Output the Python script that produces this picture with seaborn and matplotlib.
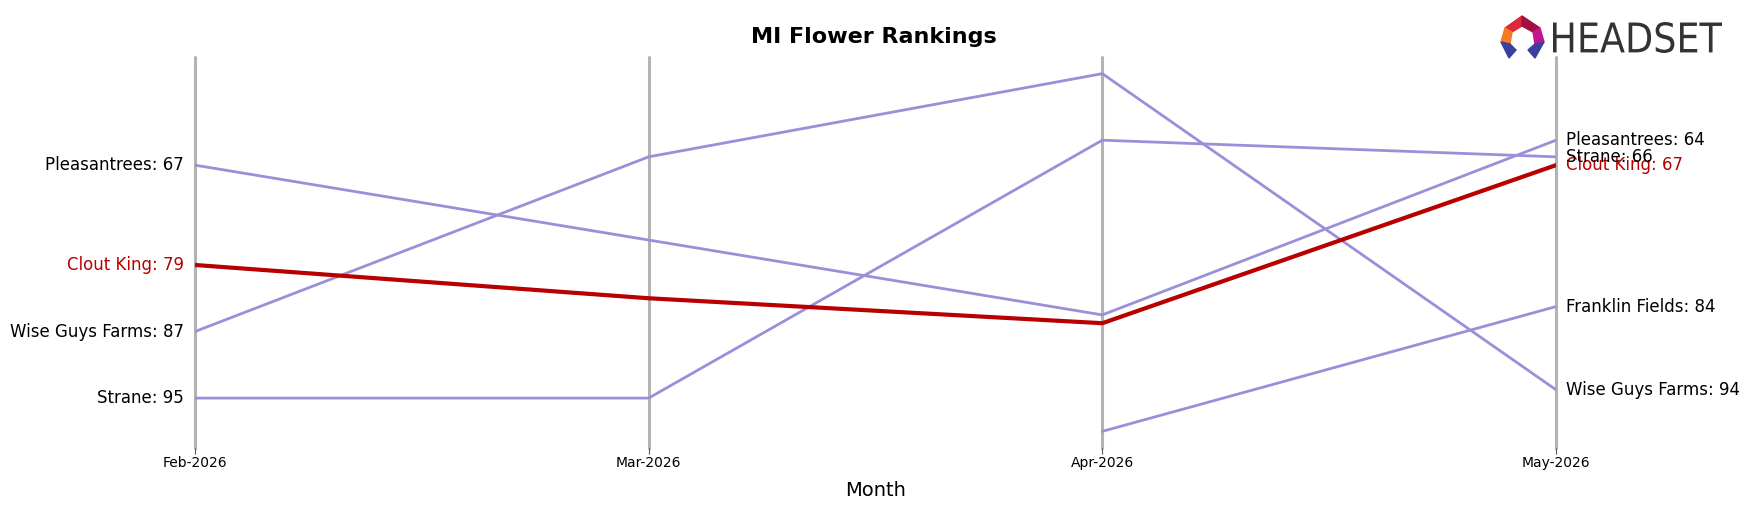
import matplotlib
matplotlib.use('Agg')
import matplotlib.pyplot as plt
from matplotlib.patches import Polygon, PathPatch
from matplotlib.textpath import TextPath
from matplotlib.font_manager import FontProperties
from matplotlib.transforms import Affine2D
import seaborn as sns
import numpy as np
import pandas as pd

sns.set_style('white')
plt.rcParams['text.color'] = 'black'
plt.rcParams['xtick.color'] = 'black'
plt.rcParams['axes.labelcolor'] = 'black'

# data (rank per month, nan = not ranked)
months = ['Feb-2026', 'Mar-2026', 'Apr-2026', 'May-2026']
brands = ['Pleasantrees', 'Clout King', 'Wise Guys Farms', 'Strane', 'Franklin Fields']
pleasantrees = [67, 76, 85, 64]
clout_king = [79, 83, 86, 67]
wise_guys = [87, 66, 56, 94]
strane = [95, 95, 64, 66]
franklin = [np.nan, np.nan, 99, 84]
highlight = 'Clout King'

ranks = [pleasantrees, clout_king, wise_guys, strane, franklin]
rows = []
for b, r in zip(brands, ranks):
    for i, m in enumerate(months):
        rows.append({'brand': b, 'month_idx': i, 'rank': r[i]})
df = pd.DataFrame(rows)

PURPLE = '#9a8fd9'
RED = '#b80000'

W, H = 1750, 507
fig = plt.figure(figsize=(17.5, 5.07), dpi=100)
ax = fig.add_axes([195 / W, 1 - 448 / H, (1556 - 195) / W, (448 - 57) / H])

for i in range(len(months)):
    ax.axvline(i, color='#b3b3b3', lw=2.2, zorder=0, clip_on=False)

for b in brands:
    sub = df[df['brand'] == b].dropna()
    is_hl = b == highlight
    sns.lineplot(data=sub, x='month_idx', y='rank', ax=ax,
                 color=RED if is_hl else PURPLE, lw=3 if is_hl else 2,
                 zorder=3 if is_hl else 2, legend=False)
    first = sub.iloc[0]
    last = sub.iloc[-1]
    col = RED if is_hl else 'black'
    if first['month_idx'] == 0:
        ax.annotate(f"{b}: {int(first['rank'])}", (0, first['rank']), xytext=(-8, 0),
                    textcoords='offset points', ha='right', va='center', fontsize=12, color=col)
    ax.annotate(f"{b}: {int(last['rank'])}", (last['month_idx'], last['rank']), xytext=(7, 0),
                textcoords='offset points', ha='left', va='center', fontsize=12, color=col,
                annotation_clip=False)

allr = df['rank'].dropna()
ax.set_ylim(allr.max() + 2, allr.min() - 2)
ax.set_xlim(0, len(months) - 1)
ax.set_xticks(range(len(months)))
ax.set_xticklabels(months, fontsize=10)
ax.set_yticks([])
ax.set_ylabel('')
ax.set_xlabel('Month', fontsize=14, labelpad=8)
ax.tick_params(axis='x', bottom=True, length=4, color='#555555', pad=2)
for s in ax.spines.values():
    s.set_visible(False)

fig.text(874 / W, 1 - 37 / H, 'MI Flower Rankings', ha='center', va='center',
         fontsize=16, fontweight='bold')

# logo (pixel coords from top-left)
def fx(x):
    return x / W
def fy(y):
    return 1 - y / H
pieces = [
    ([(1505, 28), (1522, 16), (1522, 26), (1512, 32)], '#e0283c'),
    ([(1522, 16), (1540, 28), (1533, 32), (1522, 26)], '#a01040'),
    ([(1505, 28), (1512, 32), (1510, 44), (1501, 42)], '#f47b20'),
    ([(1540, 28), (1544, 42), (1535, 44), (1533, 32)], '#c0168f'),
    ([(1501, 42), (1510, 44), (1516, 50), (1509, 58)], '#3b3f9e'),
    ([(1544, 42), (1535, 44), (1528, 50), (1535, 58)], '#3b3f9e'),
]
for pts, c in pieces:
    fig.patches.append(Polygon([(fx(x), fy(y)) for x, y in pts], closed=True,
                               transform=fig.transFigure, color=c))
tp = TextPath((0, 0), 'HEADSET', size=40, prop=FontProperties(family='DejaVu Sans'))
ext = tp.get_extents()
x0, x1, ytop, ybot = 1553, 1722, 22, 53
sx = (x1 - x0) / ext.width
sy = (ybot - ytop) / ext.height
tr = Affine2D().translate(-ext.x0, -ext.y0).scale(sx, sy).translate(x0, H - ybot)
fig.patches.append(PathPatch(tr.transform_path(tp), facecolor='#333333', edgecolor='none',
                             transform=None))

fig.savefig('out.png', dpi=100)
